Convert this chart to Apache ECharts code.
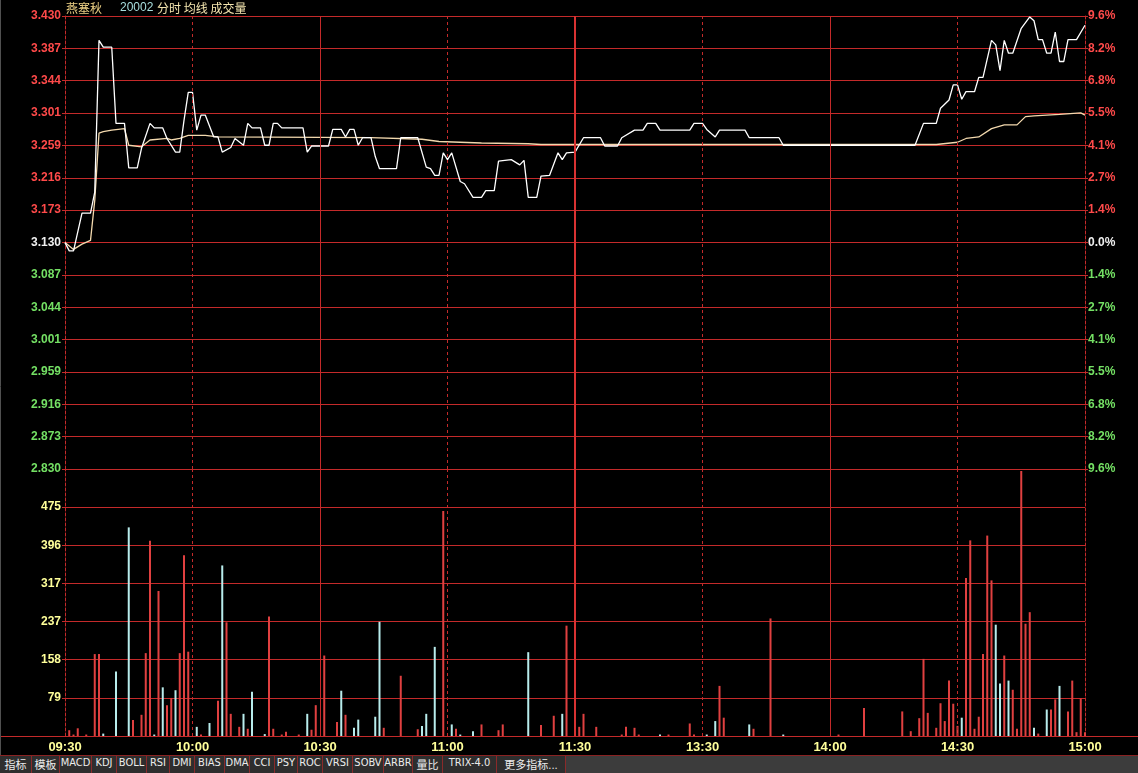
<!DOCTYPE html>
<html><head><meta charset="utf-8">
<script src="https://cdn.jsdelivr.net/npm/echarts@6/dist/echarts.min.js"></script>
<style>
html,body{margin:0;padding:0;background:#000;overflow:hidden;}
#chart{position:absolute;left:0;top:0;width:1138px;height:773px;}
#bar{position:absolute;left:0;top:755px;width:1138px;height:18px;background:#3c3c3c;border-top:1px solid #8a2222;box-sizing:border-box;}
#bar span{position:absolute;top:0;height:17px;line-height:17px;background:#2e2e2e;color:#ececec;font:11px "DejaVu Sans Condensed","Noto Sans CJK SC",sans-serif;text-align:center;border-right:1px solid #8a2a2a;box-sizing:border-box;white-space:nowrap;overflow:hidden;}
</style></head><body>
<div id="chart"></div>
<div id="bar"></div>
<script>
// ---- data ----
const timeLabels = ['09:30','10:00','10:30','11:00','11:30','13:30','14:00','14:30','15:00'];
const priceLabels = ['2.830','2.873','2.916','2.959','3.001','3.044','3.087','3.130','3.173','3.216','3.259','3.301','3.344','3.387','3.430'];
const pctLabels = ['9.6%','8.2%','6.8%','5.5%','4.1%','2.7%','1.4%','0.0%','1.4%','2.7%','4.1%','5.5%','6.8%','8.2%','9.6%'];
const volLabels = ['','79','158','237','317','396','475',''];
const tabLabels = ['指标','模板','MACD','KDJ','BOLL','RSI','DMI','BIAS','DMA','CCI','PSY','ROC','VRSI','SOBV','ARBR','量比','TRIX-4.0','更多指标...'];

const priceMinutes = [0,1,2,4,6,7,8,9,11,12,14,15,17,18,20,21,23,24,26,27,28,29,30,31,32,33,35,36,37,39,40,42,43,44,46,47,48,49,50,51,56,57,58,62,63,65,66,67,68,69,70,72,73,74,78,79,83,85,86,87,88,89,90,91,93,94,96,98,99,101,102,105,107,108,109,111,112,114,116,117,118,120,122,126,127,130,131,134,136,137,139,140,147,148,150,151,153,154,160,161,168,169,200,202,205,206,208,209,210,211,212,214,215,216,218,219,220,221,222,223,225,227,228,229,230,231,232,233,234,235,236,238,240];
const priceValues = [3.130,3.119,3.119,3.169,3.169,3.197,3.398,3.389,3.389,3.288,3.288,3.229,3.229,3.255,3.288,3.282,3.282,3.268,3.250,3.250,3.292,3.329,3.329,3.279,3.299,3.299,3.270,3.270,3.250,3.256,3.268,3.259,3.288,3.282,3.282,3.259,3.259,3.288,3.288,3.282,3.282,3.250,3.258,3.258,3.280,3.280,3.270,3.280,3.280,3.259,3.269,3.269,3.244,3.228,3.228,3.269,3.269,3.230,3.228,3.219,3.219,3.249,3.240,3.249,3.211,3.208,3.190,3.190,3.199,3.199,3.238,3.240,3.233,3.239,3.190,3.190,3.218,3.219,3.249,3.240,3.249,3.250,3.269,3.269,3.258,3.258,3.269,3.279,3.279,3.288,3.288,3.279,3.279,3.288,3.288,3.280,3.270,3.279,3.279,3.269,3.269,3.259,3.259,3.288,3.288,3.308,3.319,3.339,3.339,3.320,3.330,3.330,3.349,3.349,3.398,3.392,3.358,3.398,3.381,3.381,3.414,3.429,3.424,3.399,3.399,3.381,3.381,3.409,3.370,3.370,3.399,3.399,3.418];

const avgMinutes = [0,2,4,6,7,8,9,11,14,15,18,20,24,25,27,29,33,36,72,84,88,98,109,112,200,205,210,212,215,218,221,224,226,228,234,239,240];
const avgValues = [3.130,3.121,3.128,3.133,3.186,3.275,3.277,3.279,3.281,3.259,3.257,3.266,3.268,3.266,3.268,3.272,3.272,3.270,3.269,3.267,3.264,3.262,3.261,3.260,3.260,3.260,3.263,3.268,3.270,3.281,3.286,3.286,3.297,3.298,3.300,3.302,3.299];

const volMinutes = [1,2,3,5,7,8,9,12,15,16,18,19,20,21,22,23,24,25,26,27,28,29,31,32,34,36,37,38,39,41,42,43,44,47,48,49,51,52,55,57,58,59,61,64,65,66,68,69,73,74,75,79,83,84,85,87,89,91,92,93,96,98,102,103,109,112,115,117,118,121,122,125,131,132,134,135,140,142,147,148,151,153,154,155,161,162,166,169,182,188,197,199,201,202,203,205,206,207,208,209,210,211,212,213,214,215,216,217,218,219,220,221,222,223,224,225,226,227,228,229,231,232,233,234,236,237,238,239,240];
const volValues = [12,3,16,3,170,170,5,134,433,33,44,172,405,3,301,101,64,79,95,172,375,175,19,3,27,73,354,236,46,19,46,15,92,4,248,15,3,9,3,46,13,64,167,29,94,44,17,34,40,237,17,125,14,21,46,185,467,24,15,3,10,24,12,24,174,23,42,46,229,19,46,19,3,19,17,3,3,3,26,3,3,31,104,38,24,15,244,3,3,58,51,10,37,160,48,17,68,31,115,67,21,38,328,406,15,40,170,416,323,231,109,167,115,96,15,550,233,257,17,5,55,55,76,104,51,115,8,78,8];
const volUp = [1,1,1,1,1,1,0,0,0,1,1,1,1,0,1,0,1,1,0,1,1,1,0,1,0,1,0,1,1,1,0,1,0,0,1,1,1,1,1,0,1,1,1,1,0,1,0,0,0,0,1,1,1,0,0,0,1,0,1,0,0,1,1,1,0,1,1,0,1,1,1,1,1,1,1,1,0,1,1,1,0,0,1,1,0,1,1,0,1,1,1,1,1,1,1,1,1,1,1,1,1,0,1,1,1,1,1,1,1,0,0,1,0,1,1,1,1,1,0,1,0,1,1,0,1,1,1,1,1];

// ---- scales ----
const PMIN = 2.83, PSTEP = 2.83 / 66, PMAX = PSTEP * 80;
const VSTEP = 475 / 6, VMAX = VSTEP * 7;
const GRID = '#c42a2a';
const FONT = '"Liberation Sans", Arial, sans-serif';

const priceData = priceMinutes.map((m, i) => [m, priceValues[i]]);
const avgData = avgMinutes.map((m, i) => [m, avgValues[i]]);
const volData = volMinutes.map((m, i) => ({
  value: [m, volValues[i]],
  itemStyle: { color: volUp[i] ? '#e04040' : '#b8ecec' }
}));

const vLines = [
  { xAxis: 30, lineStyle: { type: [3, 3], width: 1, color: GRID } },
  { xAxis: 60, lineStyle: { type: 'solid', width: 1, color: GRID } },
  { xAxis: 90, lineStyle: { type: [3, 3], width: 1, color: GRID } },
  { xAxis: 120, lineStyle: { type: 'solid', width: 2, color: '#d83232' } },
  { xAxis: 150, lineStyle: { type: [3, 3], width: 1, color: GRID } },
  { xAxis: 180, lineStyle: { type: 'solid', width: 1, color: GRID } },
  { xAxis: 210, lineStyle: { type: [3, 3], width: 1, color: GRID } }
];

function priceFmt(v) {
  const i = Math.round((v - PMIN) / PSTEP);
  const s = priceLabels[i];
  if (s === undefined) return '';
  return '{' + (i < 7 ? 'g' : (i === 7 ? 'w' : 'r')) + '|' + s + '}';
}
function pctFmt(v) {
  const i = Math.round((v - PMIN) / PSTEP);
  const s = pctLabels[i];
  if (s === undefined) return '';
  return '{' + (i < 7 ? 'g' : (i === 7 ? 'w' : 'r')) + '|' + s + '}';
}
const rich = {
  g: { color: '#74e064', fontWeight: 'bold', fontSize: 12, fontFamily: FONT },
  w: { color: '#f0f0f0', fontWeight: 'bold', fontSize: 12, fontFamily: FONT },
  r: { color: '#ff4a4a', fontWeight: 'bold', fontSize: 12, fontFamily: FONT }
};

const chart = echarts.init(document.getElementById('chart'), null, { renderer: 'canvas' });
chart.setOption({
  backgroundColor: '#000000',
  animation: false,
  grid: [
    { left: 65, top: 16, width: 1020, height: 453 },
    { left: 65, top: 469, width: 1020, height: 267 }
  ],
  xAxis: [
    { type: 'value', gridIndex: 0, min: 0, max: 240, interval: 30,
      axisLine: { show: false }, axisTick: { show: false }, axisLabel: { show: false }, splitLine: { show: false } },
    { type: 'value', gridIndex: 1, min: 0, max: 240, interval: 30,
      axisLine: { show: true, lineStyle: { color: GRID, width: 1 } }, axisTick: { show: false },
      splitLine: { show: false },
      axisLabel: { show: true, margin: 5, showMinLabel: true, showMaxLabel: true,
        color: '#ffff9a', fontWeight: 'bold', fontSize: 13, fontFamily: FONT,
        formatter: v => timeLabels[Math.round(v / 30)] || '' } }
  ],
  yAxis: [
    { type: 'value', gridIndex: 0, position: 'left', min: PMIN, max: PMAX, interval: PSTEP,
      axisLine: { show: true, lineStyle: { color: GRID, type: [3, 2] } },
      axisTick: { show: true, length: 3, lineStyle: { color: GRID } },
      splitLine: { show: true, lineStyle: { color: GRID, width: 1 } },
      axisLabel: { margin: 4, formatter: priceFmt, rich: rich } },
    { type: 'value', gridIndex: 0, position: 'right', min: PMIN, max: PMAX, interval: PSTEP,
      axisLine: { show: true, lineStyle: { color: GRID, type: [3, 2] } },
      axisTick: { show: true, length: 3, lineStyle: { color: GRID } },
      splitLine: { show: false },
      axisLabel: { margin: 3, formatter: pctFmt, rich: rich } },
    { type: 'value', gridIndex: 1, position: 'left', min: 0, max: VMAX, interval: VSTEP,
      axisLine: { show: true, lineStyle: { color: GRID, type: [3, 2] } },
      axisTick: { show: true, length: 3, lineStyle: { color: GRID } },
      splitLine: { show: true, lineStyle: { color: GRID, width: 1 } },
      axisLabel: { margin: 4, color: '#ffff9a', fontWeight: 'bold', fontSize: 12, fontFamily: FONT,
        formatter: v => volLabels[Math.round(v / VSTEP)] || '' } },
    { type: 'value', gridIndex: 1, position: 'right', min: 0, max: VMAX, interval: VSTEP,
      axisLine: { show: true, lineStyle: { color: GRID, type: [3, 2] } },
      axisTick: { show: false }, splitLine: { show: false }, axisLabel: { show: false } }
  ],
  series: [
    { name: '均线', type: 'line', xAxisIndex: 0, yAxisIndex: 0, data: avgData, showSymbol: false,
      lineStyle: { color: '#f3d9ae', width: 1.3 }, z: 3,
      markLine: { silent: true, symbol: 'none', label: { show: false }, data: vLines } },
    { name: '分时', type: 'line', xAxisIndex: 0, yAxisIndex: 0, data: priceData, showSymbol: false,
      lineStyle: { color: '#ffffff', width: 1.3 }, z: 4 },
    { name: '成交量', type: 'bar', xAxisIndex: 1, yAxisIndex: 2, data: volData, barWidth: 2, z: 3,
      markLine: { silent: true, symbol: 'none', label: { show: false }, data: vLines } }
  ],
  graphic: [
    { type: 'text', left: 66, top: 2, style: { text: '燕塞秋', fill: '#ecd084', font: '12px "Noto Sans CJK SC"' } },
    { type: 'text', left: 120, top: 2, style: { text: '20002', fill: '#a8dede', font: '12px "Liberation Sans"' } },
    { type: 'text', left: 157, top: 2, style: { text: '分时 均线 成交量', fill: '#f5e6b0', font: '12px "Noto Sans CJK SC"' } },
    { type: 'line', shape: { x1: 0, y1: 736.5, x2: 1138, y2: 736.5 }, style: { stroke: GRID, lineWidth: 1 } },
    { type: 'line', shape: { x1: 0.5, y1: 0, x2: 0.5, y2: 773 }, style: { stroke: '#505050', lineWidth: 1 } }
  ]
});

// toolbar
const bounds = [0,32,60,92,117,147,170,195,225,250,275,298,323,353,384,413,443,497,566];
const bar = document.getElementById('bar');
tabLabels.forEach((t, i) => {
  const s = document.createElement('span');
  s.textContent = t;
  s.style.left = bounds[i] + 'px';
  s.style.width = (bounds[i + 1] - bounds[i]) + 'px';
  bar.appendChild(s);
});
</script>
</body></html>
